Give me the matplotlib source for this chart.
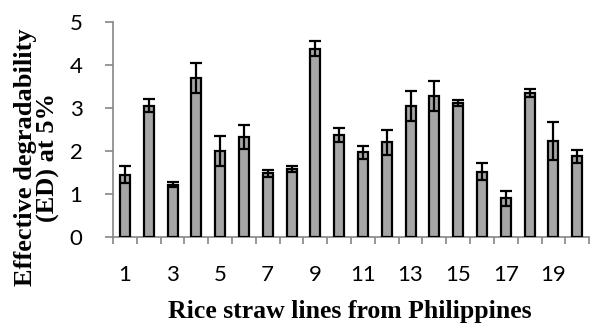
import matplotlib
matplotlib.use("Agg")
import matplotlib.pyplot as plt
import numpy as np

lines = [str(i) for i in range(1, 21)]
ed_values = [1.45, 3.05, 1.22, 3.70, 2.00, 2.32, 1.48, 1.58, 4.38, 2.38,
             1.97, 2.20, 3.05, 3.27, 3.12, 1.52, 0.90, 3.35, 2.23, 1.88]
ed_errors = [0.20, 0.15, 0.06, 0.35, 0.35, 0.28, 0.08, 0.06, 0.17, 0.16,
             0.15, 0.30, 0.35, 0.35, 0.07, 0.20, 0.18, 0.10, 0.45, 0.15]
tick_labels = ["1", "3", "5", "7", "9", "11", "13", "15", "17", "19"]

fig = plt.figure(figsize=(5.9, 3.24), dpi=100)
ax = fig.add_axes([0.1915, 0.2685, 0.807, 0.6635])

x = np.arange(len(lines))
ax.bar(x, ed_values, width=0.42, color="#a6a6a6", edgecolor="black", linewidth=1.6,
       yerr=ed_errors, error_kw=dict(ecolor="black", elinewidth=1.6, capsize=4, capthick=1.6),
       zorder=3)

ax.set_xlim(-0.5, len(lines) - 0.5)
ax.set_ylim(0, 5)
ax.set_yticks(range(0, 6))
ax.set_xticks(x[::2])
ax.set_xticklabels(tick_labels)
ax.set_xticks(np.arange(-0.5, len(lines), 1), minor=True)
ax.tick_params(axis="x", which="major", length=0, pad=20)
ax.tick_params(axis="x", which="minor", length=5, color="#868686", width=1.2)
ax.tick_params(axis="y", length=6, color="#868686", width=1.2, pad=16)
for lab in ax.get_xticklabels() + ax.get_yticklabels():
    lab.set_fontfamily("Lato")
    lab.set_fontsize(16)

for s in ["top", "right"]:
    ax.spines[s].set_visible(False)
for s in ["left", "bottom"]:
    ax.spines[s].set_color("#868686")
    ax.spines[s].set_linewidth(1.2)

fig.text(0.063, 0.514, "Effective degradability\n(ED) at 5%", rotation=90,
         ha="center", va="center", multialignment="center",
         fontfamily="Liberation Serif", fontweight="bold", fontsize=19, linespacing=1.0)
fig.text(0.593, 0.02, "Rice straw lines from Philippines", ha="center", va="baseline",
         fontfamily="Liberation Serif", fontweight="bold", fontsize=18.5)

fig.savefig("out.png", dpi=100)
